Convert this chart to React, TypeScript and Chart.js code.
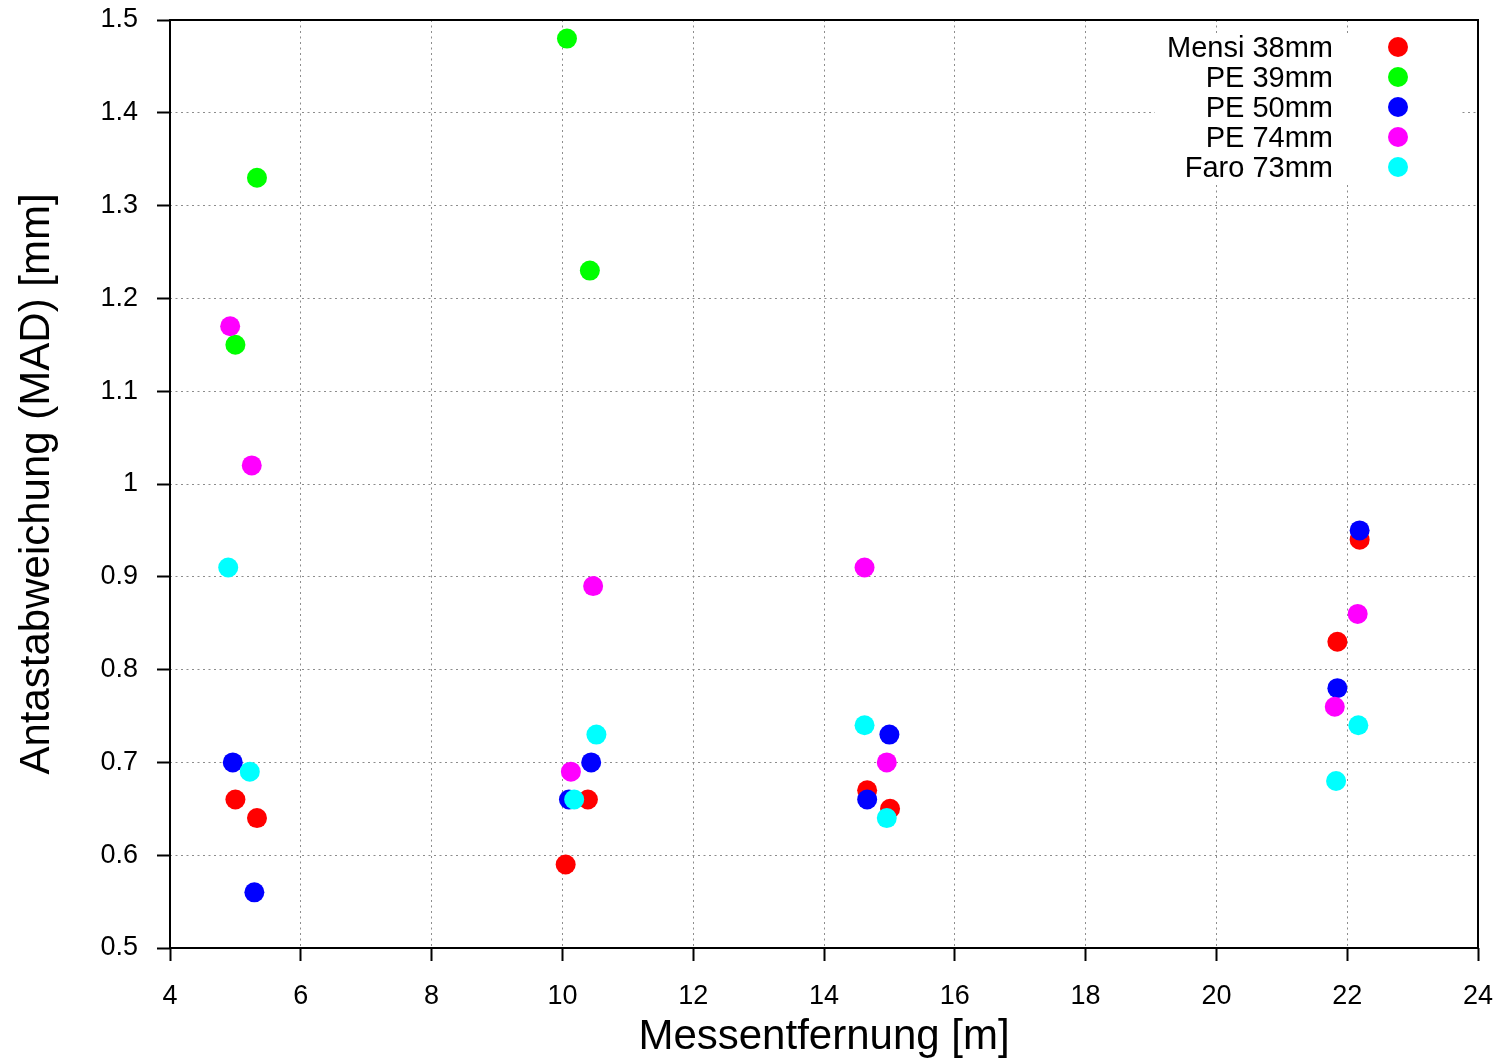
import React, { useEffect, useRef } from "react";
import { Chart, registerables } from "chart.js";

Chart.register(...registerables);

const seriesNames = ["Mensi 38mm", "PE 39mm", "PE 50mm", "PE 74mm", "Faro 73mm"];
const seriesColors = ["#ff0000", "#00ff00", "#0000ff", "#ff00ff", "#00ffff"];

const mensi38X = [5.0, 5.33, 10.05, 10.39, 14.66, 15.01, 21.85, 22.19];
const mensi38Y = [0.66, 0.64, 0.59, 0.66, 0.67, 0.65, 0.83, 0.94];

const pe39X = [5.0, 5.33, 10.07, 10.42];
const pe39Y = [1.15, 1.33, 1.48, 1.23];

const pe50X = [4.96, 5.29, 10.1, 10.44, 14.66, 15.0, 21.85, 22.19];
const pe50Y = [0.7, 0.56, 0.66, 0.7, 0.66, 0.73, 0.78, 0.95];

const pe74X = [4.92, 5.25, 10.13, 10.47, 14.62, 14.96, 21.81, 22.16];
const pe74Y = [1.17, 1.02, 0.69, 0.89, 0.91, 0.7, 0.76, 0.86];

const faro73X = [4.89, 5.22, 10.18, 10.52, 14.62, 14.96, 21.83, 22.17];
const faro73Y = [0.91, 0.69, 0.66, 0.73, 0.74, 0.64, 0.68, 0.74];

const xTickLabels = ["4", "6", "8", "10", "12", "14", "16", "18", "20", "22", "24"];
const yTickLabels = ["0.5", "0.6", "0.7", "0.8", "0.9", "1", "1.1", "1.2", "1.3", "1.4", "1.5"];

const xTitle = "Messentfernung [m]";
const yTitle = "Antastabweichung (MAD) [mm]";

const FONT = "'Liberation Sans', Arial, sans-serif";

const seriesX = [mensi38X, pe39X, pe50X, pe74X, faro73X];
const seriesY = [mensi38Y, pe39Y, pe50Y, pe74Y, faro73Y];

const keyPlugin = {
  id: "gnuplotKey",
  beforeDatasetsDraw(chart: any) {
    const ctx = chart.ctx;
    const a = chart.chartArea;
    ctx.save();
    ctx.fillStyle = "#ffffff";
    ctx.fillRect(a.right - 323, a.top + 13, 307, 150);
    ctx.restore();
  },
  afterDatasetsDraw(chart: any) {
    const ctx = chart.ctx;
    const a = chart.chartArea;
    ctx.save();
    ctx.font = `29px ${FONT}`;
    ctx.textAlign = "right";
    ctx.textBaseline = "alphabetic";
    seriesNames.forEach((name, i) => {
      const cy = a.top + 27 + i * 30;
      ctx.fillStyle = "#000";
      ctx.fillText(name, a.right - 145, cy + 10);
      ctx.beginPath();
      ctx.fillStyle = seriesColors[i];
      ctx.arc(a.right - 80, cy, 10, 0, Math.PI * 2);
      ctx.fill();
    });
    ctx.strokeStyle = "#000";
    ctx.lineWidth = 2;
    ctx.strokeRect(a.left, a.top, a.right - a.left, a.bottom - a.top);
    ctx.restore();
  },
};

const zeroPad = (s: any) => {
  s.paddingTop = 0;
  s.paddingBottom = 0;
  s.paddingLeft = 0;
  s.paddingRight = 0;
};

export default function App() {
  const ref = useRef<HTMLCanvasElement>(null);
  useEffect(() => {
    if (!ref.current) return;
    const datasets = seriesNames.map((name, i) => ({
      label: name,
      data: seriesX[i].map((x, j) => ({ x, y: seriesY[i][j] })),
      backgroundColor: seriesColors[i],
      borderColor: seriesColors[i],
      borderWidth: 0,
      pointRadius: 10,
      pointHoverRadius: 10,
      showLine: false,
      order: seriesNames.length - i,
    }));
    const chart = new Chart(ref.current, {
      type: "scatter",
      data: { datasets },
      plugins: [keyPlugin],
      options: {
        animation: false,
        responsive: false,
        layout: { padding: { top: 20, right: 26, left: 0, bottom: 0 } },
        plugins: { legend: { display: false }, tooltip: { enabled: false } },
        scales: {
          x: {
            type: "linear",
            min: 4,
            max: 24,
            afterFit: (s: any) => {
              s.height = 115;
              zeroPad(s);
            },
            ticks: {
              stepSize: 2,
              padding: 19,
              color: "#000",
              font: { family: FONT, size: 27 },
              callback: (_v: any, i: number) => xTickLabels[i],
            },
            grid: {
              color: "#8c8c8c",
              lineWidth: 1,
              tickLength: 13,
              tickColor: "#000",
              tickWidth: 2,
              tickBorderDash: [],
            },
            border: { display: false, dash: [2, 3.5] },
            title: {
              display: true,
              text: xTitle,
              color: "#000",
              font: { family: FONT, size: 42 },
              padding: { top: 0, bottom: 0 },
            },
          },
          y: {
            type: "linear",
            min: 0.5,
            max: 1.5,
            afterFit: (s: any) => {
              s.width = 170;
              zeroPad(s);
            },
            ticks: {
              stepSize: 0.1,
              padding: 19,
              color: "#000",
              font: { family: FONT, size: 27 },
              callback: (_v: any, i: number) => yTickLabels[i],
            },
            grid: {
              color: "#8c8c8c",
              lineWidth: 1,
              tickLength: 13,
              tickColor: "#000",
              tickWidth: 2,
              tickBorderDash: [],
            },
            border: { display: false, dash: [2, 3.5] },
            title: {
              display: true,
              text: yTitle,
              color: "#000",
              font: { family: FONT, size: 42 },
              padding: { top: 12, bottom: 0 },
            },
          },
        },
      },
    } as any);
    return () => chart.destroy();
  }, []);
  return (
    <div style={{ position: "absolute", left: 0, top: 0, width: 1504, height: 1063, background: "#fff" }}>
      <canvas ref={ref} width={1504} height={1063} style={{ display: "block" }} />
    </div>
  );
}
